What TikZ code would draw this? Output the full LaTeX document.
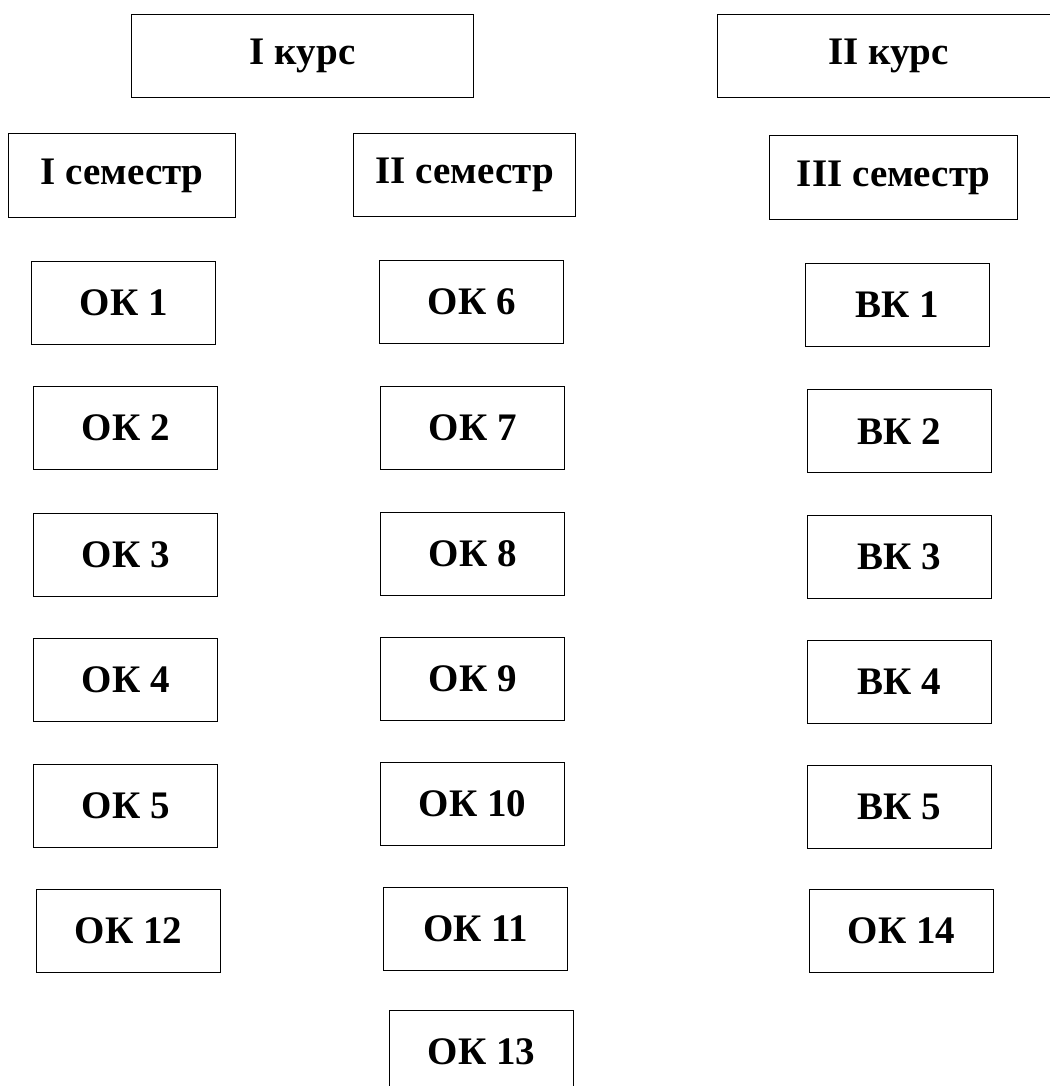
\documentclass[tikz,border=0pt]{standalone}
\usepackage{fontspec}
\setmainfont{Liberation Serif}
\begin{document}
\begin{tikzpicture}[x=1pt,y=-1pt,
  box/.style={draw=black,line width=1.3pt,inner sep=0pt,minimum height=83pt,minimum width=184pt,
    font=\fontsize{39}{44}\selectfont\bfseries,anchor=north west}]
\useasboundingbox (0,0) rectangle (1049,1086);
\node[box,minimum width=342pt] (k1) at (131,14) {I курс};
\node[box,minimum width=342pt] (k2) at (717,14) {II курс};
\node[box,minimum width=227pt,minimum height=84pt] (s1) at (8,133) {I семестр};
\node[box,minimum width=222pt] (s2) at (353,133) {II семестр};
\node[box,minimum width=248pt,minimum height=84pt] (s3) at (769,135) {III семестр};
\node[box] (ok1) at (31,261) {ОК 1};
\node[box] (ok2) at (33,386) {ОК 2};
\node[box] (ok3) at (33,513) {ОК 3};
\node[box] (ok4) at (33,638) {ОК 4};
\node[box] (ok5) at (33,764) {ОК 5};
\node[box] (ok12) at (36,889) {ОК 12};
\node[box] (ok6) at (379,260) {ОК 6};
\node[box] (ok7) at (380,386) {ОК 7};
\node[box] (ok8) at (380,512) {ОК 8};
\node[box] (ok9) at (380,637) {ОК 9};
\node[box] (ok10) at (380,762) {ОК 10};
\node[box] (ok11) at (383,887) {ОК 11};
\node[box] (ok13) at (389,1010) {ОК 13};
\node[box] (vk1) at (805,263) {ВК 1};
\node[box] (vk2) at (807,389) {ВК 2};
\node[box] (vk3) at (807,515) {ВК 3};
\node[box] (vk4) at (807,640) {ВК 4};
\node[box] (vk5) at (807,765) {ВК 5};
\node[box] (ok14) at (809,889) {ОК 14};
\end{tikzpicture}
\end{document}
